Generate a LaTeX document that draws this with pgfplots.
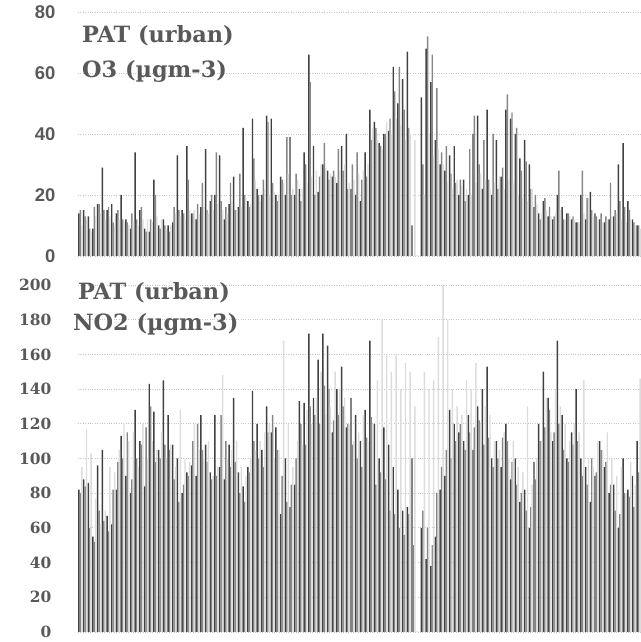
\documentclass[border=0pt]{standalone}
\usepackage{pgfplots}
\pgfplotsset{compat=1.18}
\usepackage{pgfplotstable}
\usepackage{fontspec}
\setmainfont{DejaVu Serif}
\newfontfamily\sansf{Liberation Sans}
\definecolor{dk}{HTML}{404040}
\definecolor{md}{HTML}{868686}
\definecolor{lt}{HTML}{DCDCDC}
\definecolor{tx}{HTML}{595959}

\pgfplotstableread{
i a b c
0 14 15 10
1 15 13 12
2 13 9 8
3 9 16 13
4 17 17 14
5 29 15 12
6 15 16 13
7 17 11 10
8 14 15 12
9 20 12 11
10 12 11 10
11 9 14 11
12 34 12 10
13 15 16 12
14 9 8 12
15 8 12 11
16 25 20 13
17 10 9 12
18 12 10 9
19 10 8 10
20 11 16 14
21 33 15 13
22 15 14 12
23 36 25 15
24 14 14 15
25 12 17 14
26 16 24 16
27 35 15 14
28 18 20 15
29 20 34 17
30 33 18 15
31 12 16 14
32 17 24 18
33 26 15 15
34 16 27 16
35 42 20 19
36 18 16 17
37 45 32 25
38 22 20 18
39 20 25 22
40 46 44 20
41 45 24 21
42 20 18 20
43 26 25 24
44 20 39 27
45 39 20 22
46 20 27 25
47 22 18 22
48 34 30 24
49 66 57 26
50 36 20 28
51 21 26 30
52 30 37 29
53 28 25 27
54 26 28 26
55 24 35 28
56 36 28 30
57 40 22 24
58 22 30 25
59 20 34 27
60 18 25 28
61 34 26 30
62 48 38 42
63 44 42 38
64 37 36 35
65 40 40 44
66 41 45 40
67 62 54 45
68 50 62 43
69 58 48 38
70 67 42 40
71 10 0 38
72 0 0 0
73 52 30 20
74 68 72 40
75 57 66 33
76 38 55 35
77 30 34 30
78 28 36 24
79 33 27 22
80 36 24 25
81 20 25 23
82 25 18 22
83 20 35 20
84 40 46 24
85 46 30 27
86 22 38 25
87 48 25 22
88 20 40 24
89 38 22 26
90 26 29 22
91 48 53 25
92 45 47 24
93 40 42 20
94 32 28 19
95 38 31 18
96 30 22 22
97 16 20 17
98 14 12 14
99 18 19 15
100 13 16 13
101 12 13 14
102 20 28 15
103 16 12 12
104 14 14 13
105 12 13 12
106 11 11 11
107 20 28 14
108 12 19 19
109 21 15 13
110 14 13 12
111 12 14 11
112 11 13 12
113 12 24 13
114 13 15 14
115 30 18 12
116 37 16 11
117 18 15 12
118 12 11 10
119 10 10 9
}\otab

\pgfplotstableread{
i a b c
0 82 80 95
1 88 84 117
2 86 60 103
3 55 52 77
4 96 70 62
5 105 64 70
6 67 58 95
7 62 82 92
8 82 98 105
9 113 100 120
10 90 115 110
11 80 88 115
12 128 100 95
13 110 108 120
14 84 118 100
15 143 130 110
16 127 98 105
17 105 100 115
18 145 108 100
19 125 105 108
20 108 88 95
21 100 75 128
22 80 85 100
23 92 90 98
24 96 110 120
25 90 120 105
26 125 105 100
27 108 98 110
28 92 88 90
29 125 90 95
30 95 125 148
31 88 110 100
32 108 95 105
33 135 98 110
34 92 80 95
35 84 75 90
36 95 92 100
37 139 110 105
38 120 100 110
39 105 95 115
40 130 115 120
41 115 125 100
42 118 105 105
43 68 90 168
44 100 75 120
45 72 85 95
46 85 100 110
47 133 120 108
48 132 108 128
49 172 130 120
50 135 125 135
51 157 120 150
52 172 142 125
53 165 140 130
54 115 122 150
55 140 125 140
56 153 130 135
57 118 120 120
58 135 108 110
59 125 100 115
60 110 95 125
61 128 112 110
62 168 124 120
63 120 85 145
64 100 92 180
65 118 88 160
66 108 70 150
67 95 68 160
68 82 60 140
69 70 56 155
70 72 68 150
71 100 50 130
72 0 0 0
73 60 70 150
74 42 60 140
75 38 50 145
76 55 80 170
77 82 95 200
78 90 105 180
79 128 100 140
80 120 110 130
81 115 120 125
82 110 105 145
83 125 115 140
84 105 118 155
85 130 122 120
86 140 108 130
87 153 112 125
88 100 95 110
89 110 100 105
90 95 112 115
91 120 110 100
92 88 98 110
93 100 85 95
94 75 80 92
95 82 70 130
96 60 72 85
97 98 88 100
98 120 110 110
99 150 118 135
100 135 128 115
101 110 115 140
102 168 120 130
103 125 105 120
104 100 98 110
105 115 108 120
106 140 110 115
107 100 90 145
108 95 85 100
109 75 100 95
110 90 92 110
111 110 105 105
112 95 98 115
113 80 85 100
114 85 70 90
115 60 68 95
116 100 80 80
117 82 78 98
118 90 72 85
119 110 92 146
}\ntab

\pgfplotsset{
  mybars/.style={
    scale only axis, width=563bp, xmin=-0.5, xmax=119.5,
    ybar=0pt, bar width=1.45bp,
    axis line style={draw=none}, xtick=\empty, major tick length=0pt,
    ymajorgrids, grid style={dotted, color=black!22, line width=0.9pt},
    ymin=0, clip=false,
    /pgf/number format/assume math mode=true,
    every axis plot/.append style={draw=none},
  }
}

\begin{document}
\begin{tikzpicture}
\path[use as bounding box] (0,0) rectangle (641bp,642bp);
\begin{axis}[mybars, at={(78bp,386bp)}, anchor=south west, height=244bp,
  ymax=80, ytick={0,20,...,80},
  yticklabel style={text=tx, font=\sansf\bfseries\fontsize{18.5}{20}\selectfont, xshift=-19bp}]
\addplot[fill=dk] table[x=i,y=a]{\otab};
\addplot[fill=md] table[x=i,y=b]{\otab};
\addplot[fill=lt] table[x=i,y=c]{\otab};
\node[anchor=base west, text=tx, font=\bfseries\fontsize{22.5}{24}\selectfont, inner sep=0pt] at (rel axis cs:0.007,0.873) {PAT (urban)};
\node[anchor=base west, text=tx, font=\bfseries\fontsize{22.5}{24}\selectfont, inner sep=0pt] at (rel axis cs:0.007,0.730) {O3 (µgm-3)};
\end{axis}
\begin{axis}[mybars, at={(78bp,10bp)}, anchor=south west, height=347bp,
  ymax=200, ytick={0,20,...,200},
  yticklabel style={text=tx, font=\bfseries\fontsize{15.5}{18}\selectfont, xshift=-23bp}]
\addplot[fill=dk] table[x=i,y=a]{\ntab};
\addplot[fill=md] table[x=i,y=b]{\ntab};
\addplot[fill=lt] table[x=i,y=c]{\ntab};
\node[anchor=base west, text=tx, font=\bfseries\fontsize{22.5}{24}\selectfont, inner sep=0pt] at (rel axis cs:0.0,0.957) {PAT (urban)};
\node[anchor=base west, text=tx, font=\bfseries\fontsize{22.5}{24}\selectfont, inner sep=0pt] at (rel axis cs:-0.009,0.870) {NO2 (µgm-3)};
\end{axis}
\end{tikzpicture}
\end{document}
